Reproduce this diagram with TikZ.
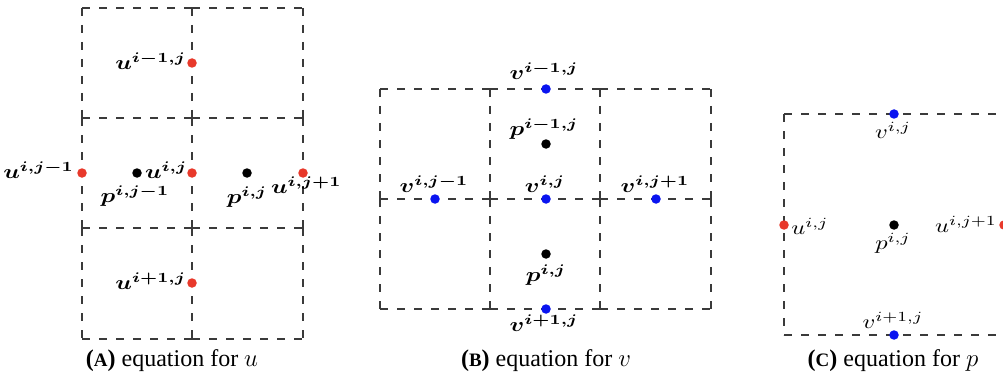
\documentclass[tikz,border=0pt]{standalone}
\usepackage{amsmath}
\usepackage[no-math]{fontspec}
\newfontfamily\capfont{Liberation Serif}
\definecolor{gridgray}{HTML}{3A3A3A}
\definecolor{dotred}{HTML}{E8392B}
\definecolor{dotblue}{HTML}{0A14F0}
\newcommand\lbl[1]{\scalebox{2.45}[2.0]{$#1$}}
\newcommand\capA[2]{{\capfont\fontsize{24}{28}\selectfont\textbf{(}{\fontsize{19}{21}\selectfont\bfseries #1}\textbf{)} equation for $#2$}}
\begin{document}
\begin{tikzpicture}[x=1pt,y=-1pt,
  gridline/.style={draw=gridgray, line width=1.2pt, dash pattern=on 8pt off 9pt},
  rdot/.style={circle, fill=dotred, minimum size=9.5pt, inner sep=0pt},
  bdot/.style={circle, fill=dotblue, minimum size=9.5pt, inner sep=0pt},
  kdot/.style={circle, fill=black, minimum size=9.5pt, inner sep=0pt},
  lab/.style={inner sep=0pt, outer sep=0pt},
  captext/.style={inner sep=0pt}]
\useasboundingbox (0,0) rectangle (1003,385);
% ---------- Panel A grid ----------
\foreach \y in {8,118,228,339}{
  \draw[gridline] (82,\y) -- (192,\y);
  \draw[gridline] (192,\y) -- (303,\y);
}
\foreach \x in {82,192,303}{
  \draw[gridline] (\x,8) -- (\x,118);
  \draw[gridline] (\x,118) -- (\x,228);
  \draw[gridline] (\x,228) -- (\x,339);
}
% ---------- Panel B grid ----------
\foreach \y in {89,199,309}{
  \draw[gridline] (380,\y) -- (490,\y);
  \draw[gridline] (490,\y) -- (600,\y);
  \draw[gridline] (600,\y) -- (711,\y);
}
\foreach \x in {380,490,600,711}{
  \draw[gridline] (\x,89) -- (\x,199);
  \draw[gridline] (\x,199) -- (\x,309);
}
% ---------- Panel C box ----------
\draw[gridline] (784,114) -- (1005,114);
\draw[gridline] (784,335) -- (1005,335);
\draw[gridline] (784,114) -- (784,335);
% ---------- Panel A points ----------
\node[rdot] (Aup) at (192,63) {};
\node[rdot] (Aleft) at (82,173) {};
\node[kdot] (Apl) at (137,173) {};
\node[rdot] (Auc) at (192,173) {};
\node[kdot] (Apc) at (247,173) {};
\node[rdot] (Aright) at (303,173) {};
\node[rdot] (Adown) at (192,283) {};
\node[lab, anchor=east] (LAup) at (186,61) {\lbl{\boldsymbol{u^{i-1,j}}}};
\node[lab, anchor=east] (LAleft) at (74,170) {\lbl{\boldsymbol{u^{i,j-1}}}};
\node[lab, anchor=west] (LAuc) at (145,170) {\lbl{\boldsymbol{u^{i,j}}}};
\node[lab] (LApl) at (135,196) {\lbl{\boldsymbol{p^{i,j-1}}}};
\node[lab] (LApc) at (247,197) {\lbl{\boldsymbol{p^{i,j}}}};
\node[lab, anchor=west] (LAright) at (271,185) {\lbl{\boldsymbol{u^{i,j+1}}}};
\node[lab, anchor=east] (LAdown) at (186,281) {\lbl{\boldsymbol{u^{i+1,j}}}};
% ---------- Panel B points ----------
\node[bdot] (Bup) at (546,89) {};
\node[kdot] (Bpu) at (546,144) {};
\node[bdot] (Bleft) at (435,199) {};
\node[bdot] (Bc) at (546,199) {};
\node[bdot] (Bright) at (656,199) {};
\node[kdot] (Bpc) at (546,254) {};
\node[bdot] (Bdown) at (546,309) {};
\node[lab] (LBup) at (544,71) {\lbl{\boldsymbol{v^{i-1,j}}}};
\node[lab] (LBpu) at (544,129) {\lbl{\boldsymbol{p^{i-1,j}}}};
\node[lab] (LBleft) at (434,184) {\lbl{\boldsymbol{v^{i,j-1}}}};
\node[lab] (LBc) at (545,184) {\lbl{\boldsymbol{v^{i,j}}}};
\node[lab] (LBright) at (655,184) {\lbl{\boldsymbol{v^{i,j+1}}}};
\node[lab] (LBpc) at (546,275) {\lbl{\boldsymbol{p^{i,j}}}};
\node[lab] (LBdown) at (544,323) {\lbl{\boldsymbol{v^{i+1,j}}}};
% ---------- Panel C points ----------
\node[bdot] (Cup) at (894,114) {};
\node[rdot] (Cleft) at (784,225) {};
\node[kdot] (Cc) at (894,225) {};
\node[rdot] (Cright) at (1004,225) {};
\node[bdot] (Cdown) at (894,335) {};
\node[lab] (LCup) at (893,130) {\lbl{v^{i,j}}};
\node[lab] (LCleft) at (810,226) {\lbl{u^{i,j}}};
\node[lab] (LCc) at (893,243) {\lbl{p^{i,j}}};
\node[lab] (LCright) at (966,224) {\lbl{u^{i,j+1}}};
\node[lab] (LCdown) at (893,320) {\lbl{v^{i+1,j}}};
% ---------- Captions ----------
\node[captext] (capA) at (172,361) {\capA{A}{u}};
\node[captext] (capB) at (546,361) {\capA{B}{v}};
\node[captext] (capC) at (893,361) {\capA{C}{p}};
\end{tikzpicture}
\end{document}
